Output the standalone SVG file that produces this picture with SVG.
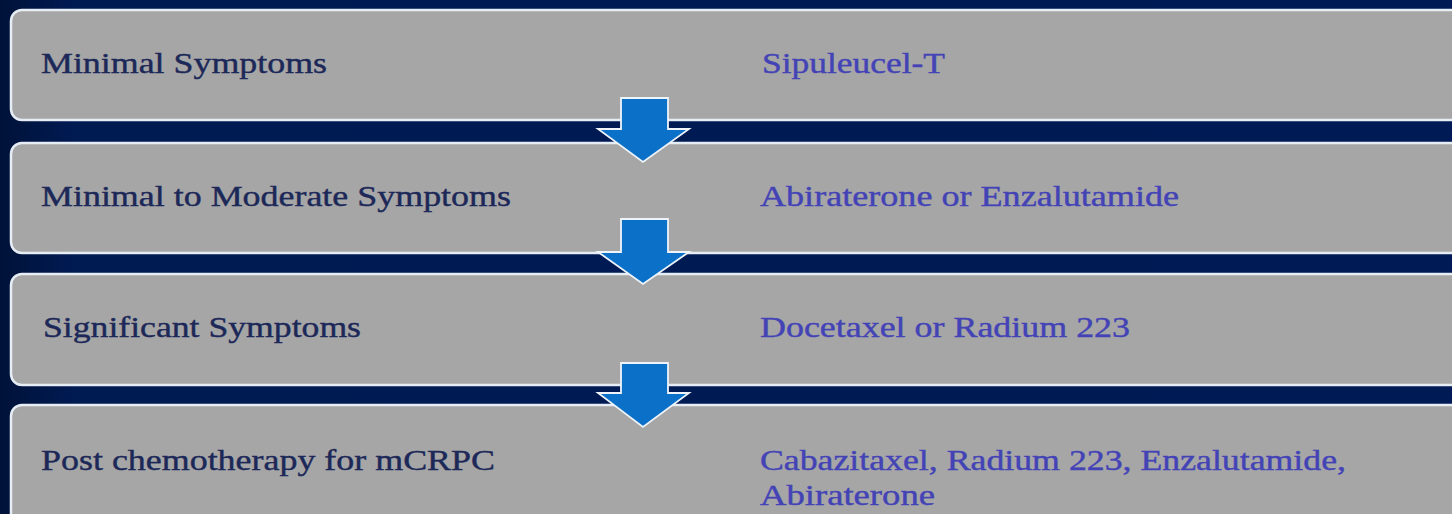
<svg xmlns="http://www.w3.org/2000/svg" width="1452" height="514" viewBox="0 0 1452 514">
<defs>
<linearGradient id="bg" x1="0" y1="0" x2="1" y2="0">
<stop offset="0" stop-color="#001238"/>
<stop offset="0.05" stop-color="#001a52"/>
<stop offset="1" stop-color="#001a55"/>
</linearGradient>
<style>
.box{fill:#a6a6a6;stroke:#e6edf5;stroke-width:2.5}
.lt{font-family:"Liberation Serif",serif;font-size:29px;fill:#1c2858;stroke:#1c2858;stroke-width:0.4}
.rt{font-family:"Liberation Serif",serif;font-size:29px;fill:#4343b6;stroke:#4343b6;stroke-width:0.4}
.arr{fill:#0b70c8;stroke:#eef4fa;stroke-width:1.8;stroke-linejoin:miter}
</style>
</defs>
<rect x="0" y="0" width="1452" height="514" fill="url(#bg)"/>
<g id="node1">
<rect class="box" x="11" y="10" width="1470" height="110" rx="11"/>
<text class="lt" x="41" y="73" textLength="286" lengthAdjust="spacingAndGlyphs">Minimal Symptoms</text>
<text class="rt" x="762" y="73" textLength="183" lengthAdjust="spacingAndGlyphs">Sipuleucel-T</text>
</g>
<g id="node2">
<rect class="box" x="11" y="143" width="1470" height="110" rx="11"/>
<text class="lt" x="41" y="206" textLength="470" lengthAdjust="spacingAndGlyphs">Minimal to Moderate Symptoms</text>
<text class="rt" x="760" y="206" textLength="419" lengthAdjust="spacingAndGlyphs">Abiraterone or Enzalutamide</text>
</g>
<g id="node3">
<rect class="box" x="11" y="274" width="1470" height="111" rx="11"/>
<text class="lt" x="43" y="337" textLength="318" lengthAdjust="spacingAndGlyphs">Significant Symptoms</text>
<text class="rt" x="760" y="337" textLength="370" lengthAdjust="spacingAndGlyphs">Docetaxel or Radium 223</text>
</g>
<g id="node4">
<rect class="box" x="11" y="405" width="1470" height="140" rx="11"/>
<text class="lt" x="41" y="470" textLength="454" lengthAdjust="spacingAndGlyphs">Post chemotherapy for mCRPC</text>
<text class="rt" x="760" y="470" textLength="586" lengthAdjust="spacingAndGlyphs">Cabazitaxel, Radium 223, Enzalutamide,</text>
<text class="rt" x="760" y="505" textLength="175" lengthAdjust="spacingAndGlyphs">Abiraterone</text>
</g>
<g id="connectors">
<polygon class="arr" points="621,98 668,98 668,129 689,129 643,162 598,129 621,129"/>
<polygon class="arr" points="621,219 668,219 668,252 689,252 643,284 598,252 621,252"/>
<polygon class="arr" points="621,363 668,363 668,393 689,393 643,427 598,393 621,393"/>
</g>
</svg>
